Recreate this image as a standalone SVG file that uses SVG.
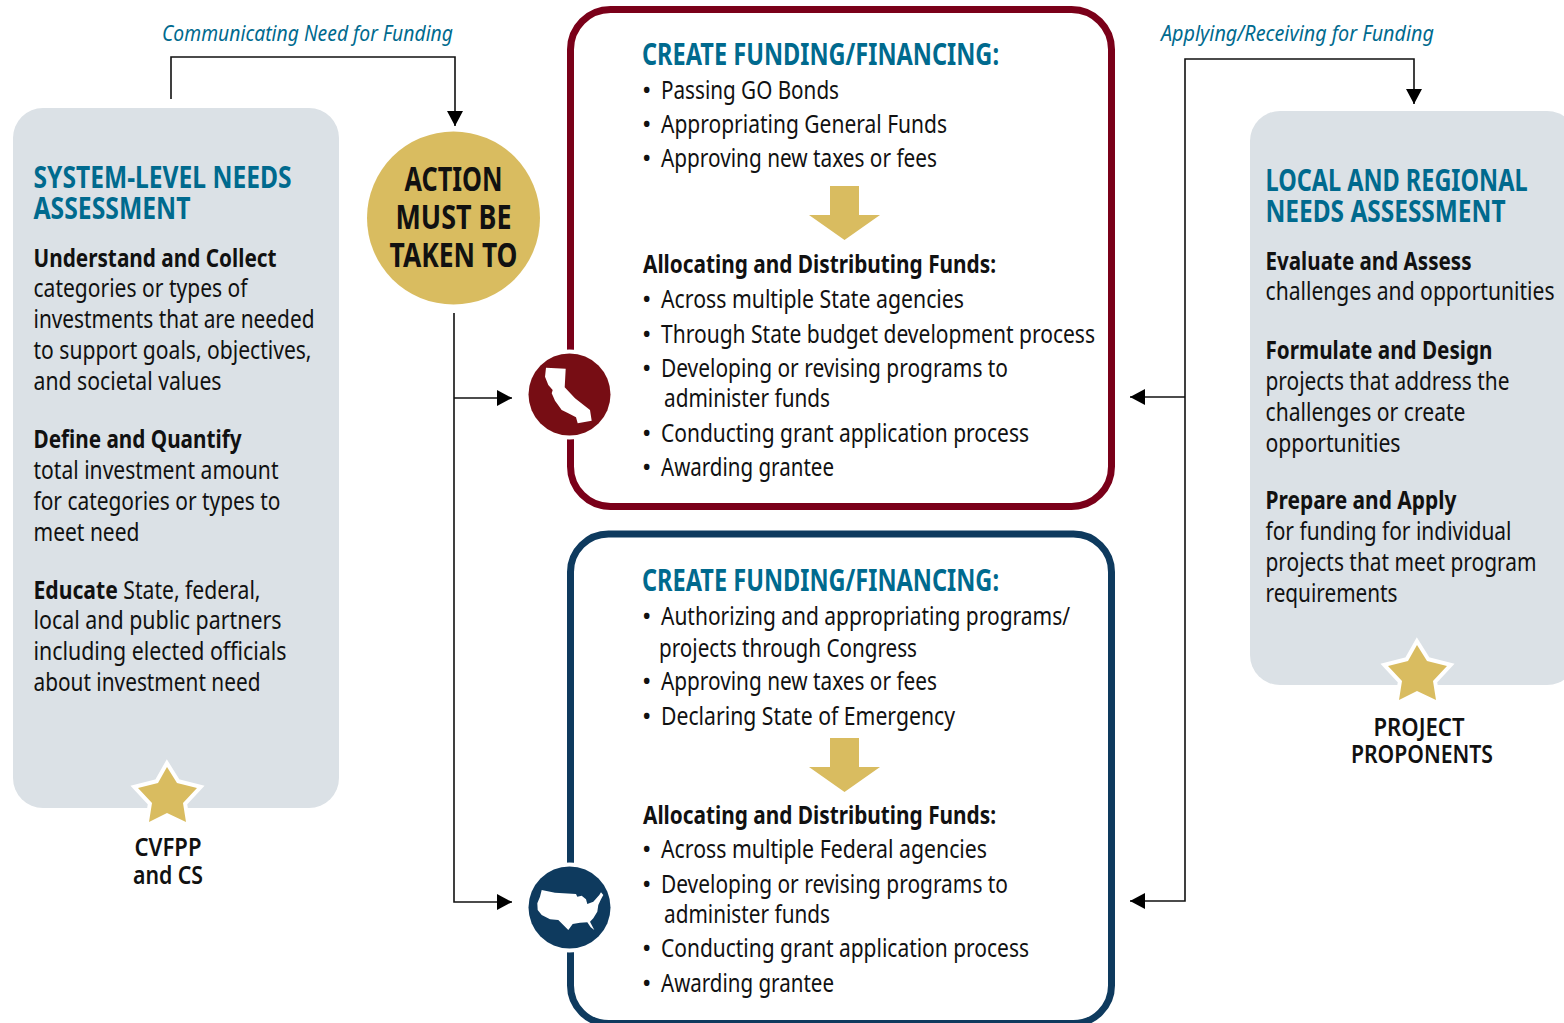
<svg xmlns="http://www.w3.org/2000/svg" width="1564" height="1023" viewBox="0 0 1564 1023">
<style>
text{font-family:"Noto Sans","Open Sans",sans-serif;fill:#111;font-size:25px}
.h{fill:#006a8e;font-weight:700;font-size:30px}
.b{font-weight:700}
.i{fill:#006a8e;font-style:italic;font-size:22px}
.a{font-size:34px;font-weight:700;text-anchor:middle}
.c{font-weight:600;text-anchor:middle}
.l{fill:none;stroke:#111;stroke-width:1.6}
.star{fill:#d9bc60;stroke:#fff;stroke-width:8;stroke-linejoin:miter;stroke-miterlimit:8;paint-order:stroke}
.gold{fill:#d9bc60}
.grey{fill:#dbe1e6}
</style>
<defs>
<marker id="ah" markerUnits="userSpaceOnUse" markerWidth="16" markerHeight="18" refX="15" refY="8" orient="auto"><path d="M0 0L15 8L0 16Z" fill="#000"/></marker>
<polygon id="st" points="167,767 177,783 197,788 183,803 186,822 167,813 149,822 152,803 138,788 158,783"/>
<path id="ga" d="M830 0H859V29H880L844.500 54L809 29H830Z"/>
</defs>

<g id="connectors">
<path class="l" marker-end="url(#ah)" d="M171 99V57H455V126"/>
<path class="l" marker-end="url(#ah)" d="M454 313V902H512"/>
<path class="l" marker-end="url(#ah)" d="M454 398H512"/>
<path class="l" marker-end="url(#ah)" d="M1185 397V59H1414V104"/>
<path class="l" marker-end="url(#ah)" d="M1185 397H1130"/>
<path class="l" marker-end="url(#ah)" d="M1185 397V901H1130"/>
</g>

<g id="label-communicating"><text class="i" x="162" y="41" textLength="291" lengthAdjust="spacingAndGlyphs">Communicating Need for Funding</text></g>
<g id="label-applying"><text class="i" x="1161" y="41" textLength="273" lengthAdjust="spacingAndGlyphs">Applying/Receiving for Funding</text></g>

<g id="system-needs">
<rect class="grey" x="13" y="108" width="326" height="700" rx="30"/>
<text class="h" x="33.500" y="188" textLength="258" lengthAdjust="spacingAndGlyphs">SYSTEM-LEVEL NEEDS</text>
<text class="h" x="33.500" y="219" textLength="157" lengthAdjust="spacingAndGlyphs">ASSESSMENT</text>
<text class="b" x="33.500" y="267" textLength="243" lengthAdjust="spacingAndGlyphs">Understand and Collect</text>
<text x="33.500" y="297" textLength="214" lengthAdjust="spacingAndGlyphs">categories or types of</text>
<text x="33.500" y="328" textLength="281" lengthAdjust="spacingAndGlyphs">investments that are needed</text>
<text x="33.500" y="359" textLength="278" lengthAdjust="spacingAndGlyphs">to support goals, objectives,</text>
<text x="33.500" y="390" textLength="188" lengthAdjust="spacingAndGlyphs">and societal values</text>
<text class="b" x="33.500" y="448" textLength="208" lengthAdjust="spacingAndGlyphs">Define and Quantify</text>
<text x="33.500" y="479" textLength="245" lengthAdjust="spacingAndGlyphs">total investment amount</text>
<text x="33.500" y="510" textLength="247" lengthAdjust="spacingAndGlyphs">for categories or types to</text>
<text x="33.500" y="541" textLength="106" lengthAdjust="spacingAndGlyphs">meet need</text>
<text x="33.500" y="599" textLength="227" lengthAdjust="spacingAndGlyphs"><tspan class="b">Educate</tspan> State, federal,</text>
<text x="33.500" y="629" textLength="248" lengthAdjust="spacingAndGlyphs">local and public partners</text>
<text x="33.500" y="660" textLength="253" lengthAdjust="spacingAndGlyphs">including elected officials</text>
<text x="33.500" y="691" textLength="227" lengthAdjust="spacingAndGlyphs">about investment need</text>
<use href="#st" class="star"/>
<text class="c" x="168" y="856" textLength="67" lengthAdjust="spacingAndGlyphs">CVFPP</text>
<text class="c" x="168" y="884" textLength="70" lengthAdjust="spacingAndGlyphs">and CS</text>
</g>

<g id="action">
<circle class="gold" cx="453.500" cy="218" r="86.500"/>
<text class="a" x="453.500" y="191" textLength="98" lengthAdjust="spacingAndGlyphs">ACTION</text>
<text class="a" x="453.500" y="229" textLength="116" lengthAdjust="spacingAndGlyphs">MUST BE</text>
<text class="a" x="453.500" y="267" textLength="128" lengthAdjust="spacingAndGlyphs">TAKEN TO</text>
</g>

<g id="state-box">
<rect x="570.500" y="9.500" width="541" height="497" rx="40" fill="#fff" stroke="#7a0019" stroke-width="7"/>
<text class="h" x="642" y="65" textLength="357" lengthAdjust="spacingAndGlyphs">CREATE FUNDING/FINANCING:</text>
<text x="642" y="99">•</text><text x="661" y="99" textLength="178" lengthAdjust="spacingAndGlyphs">Passing GO Bonds</text>
<text x="642" y="133">•</text><text x="661" y="133" textLength="286" lengthAdjust="spacingAndGlyphs">Appropriating General Funds</text>
<text x="642" y="167">•</text><text x="661" y="167" textLength="276" lengthAdjust="spacingAndGlyphs">Approving new taxes or fees</text>
<use href="#ga" y="186" class="gold"/>
<text class="b" x="643" y="273" textLength="353" lengthAdjust="spacingAndGlyphs">Allocating and Distributing Funds:</text>
<text x="642" y="308">•</text><text x="661" y="308" textLength="303" lengthAdjust="spacingAndGlyphs">Across multiple State agencies</text>
<text x="642" y="343">•</text><text x="661" y="343" textLength="434" lengthAdjust="spacingAndGlyphs">Through State budget development process</text>
<text x="642" y="377">•</text><text x="661" y="377" textLength="347" lengthAdjust="spacingAndGlyphs">Developing or revising programs to</text>
<text x="664" y="407" textLength="166" lengthAdjust="spacingAndGlyphs">administer funds</text>
<text x="642" y="442">•</text><text x="661" y="442" textLength="368" lengthAdjust="spacingAndGlyphs">Conducting grant application process</text>
<text x="642" y="476">•</text><text x="661" y="476" textLength="173" lengthAdjust="spacingAndGlyphs">Awarding grantee</text>
<circle cx="569.500" cy="394.500" r="45" fill="#fff"/>
<circle cx="569.500" cy="394.500" r="41" fill="#770d14"/>
<path fill="#fff" d="M546 367.700L565.700 368.700L564.700 387.300L575 398.300L590 410L591.700 420.700L577.700 423.300L576 417.300L568.300 413.300L561.700 410L555 400.700L551.700 393.300L552.700 390L548.300 385L545 376.700Z"/>
</g>

<g id="federal-box">
<rect x="570.500" y="534" width="541" height="489.500" rx="38" fill="#fff" stroke="#0e3a5e" stroke-width="7"/>
<text class="h" x="642" y="591" textLength="357" lengthAdjust="spacingAndGlyphs">CREATE FUNDING/FINANCING:</text>
<text x="642" y="625">•</text><text x="661" y="625" textLength="409" lengthAdjust="spacingAndGlyphs">Authorizing and appropriating programs/</text>
<text x="659" y="657" textLength="258" lengthAdjust="spacingAndGlyphs">projects through Congress</text>
<text x="642" y="690">•</text><text x="661" y="690" textLength="276" lengthAdjust="spacingAndGlyphs">Approving new taxes or fees</text>
<text x="642" y="725">•</text><text x="661" y="725" textLength="294" lengthAdjust="spacingAndGlyphs">Declaring State of Emergency</text>
<use href="#ga" y="738" class="gold"/>
<text class="b" x="643" y="824" textLength="353" lengthAdjust="spacingAndGlyphs">Allocating and Distributing Funds:</text>
<text x="642" y="858">•</text><text x="661" y="858" textLength="326" lengthAdjust="spacingAndGlyphs">Across multiple Federal agencies</text>
<text x="642" y="893">•</text><text x="661" y="893" textLength="347" lengthAdjust="spacingAndGlyphs">Developing or revising programs to</text>
<text x="664" y="923" textLength="166" lengthAdjust="spacingAndGlyphs">administer funds</text>
<text x="642" y="957">•</text><text x="661" y="957" textLength="368" lengthAdjust="spacingAndGlyphs">Conducting grant application process</text>
<text x="642" y="992">•</text><text x="661" y="992" textLength="173" lengthAdjust="spacingAndGlyphs">Awarding grantee</text>
<circle cx="569.500" cy="907.500" r="45" fill="#fff"/>
<circle cx="569.500" cy="907.500" r="41" fill="#0e3a5e"/>
<path fill="#fff" d="M541.700 890L555 892.700L576 894L577.300 896.700L581.700 895.700L586 899.300L587.300 904L593.300 901.700L599.300 895L601 892.300L603.300 895L601 899.300L598.300 905L597.300 911.700L593.300 918.300L590 921.700L594.300 930L590.700 927.300L587.300 922.300L580 922.700L572.700 924L568.300 930L563.300 925L558.300 920L550 919.300L541.700 915L537.700 910L537.300 903.300L540 896.700Z"/>
</g>

<g id="local-needs">
<rect class="grey" x="1250" y="111" width="327" height="574" rx="30"/>
<text class="h" x="1265.500" y="191" textLength="262" lengthAdjust="spacingAndGlyphs">LOCAL AND REGIONAL</text>
<text class="h" x="1265.500" y="222" textLength="240" lengthAdjust="spacingAndGlyphs">NEEDS ASSESSMENT</text>
<text class="b" x="1265.500" y="270" textLength="206" lengthAdjust="spacingAndGlyphs">Evaluate and Assess</text>
<text x="1265.500" y="300" textLength="289" lengthAdjust="spacingAndGlyphs">challenges and opportunities</text>
<text class="b" x="1265.500" y="359" textLength="227" lengthAdjust="spacingAndGlyphs">Formulate and Design</text>
<text x="1265.500" y="390" textLength="244" lengthAdjust="spacingAndGlyphs">projects that address the</text>
<text x="1265.500" y="421" textLength="200" lengthAdjust="spacingAndGlyphs">challenges or create</text>
<text x="1265.500" y="452" textLength="135" lengthAdjust="spacingAndGlyphs">opportunities</text>
<text class="b" x="1265.500" y="509" textLength="191" lengthAdjust="spacingAndGlyphs">Prepare and Apply</text>
<text x="1265.500" y="540" textLength="246" lengthAdjust="spacingAndGlyphs">for funding for individual</text>
<text x="1265.500" y="571" textLength="271" lengthAdjust="spacingAndGlyphs">projects that meet program</text>
<text x="1265.500" y="602" textLength="132" lengthAdjust="spacingAndGlyphs">requirements</text>
<use href="#st" class="star" transform="translate(1250 -122)"/>
<text class="c" x="1419" y="736" textLength="91" lengthAdjust="spacingAndGlyphs">PROJECT</text>
<text class="c" x="1422" y="763" textLength="142" lengthAdjust="spacingAndGlyphs">PROPONENTS</text>
</g>
</svg>
